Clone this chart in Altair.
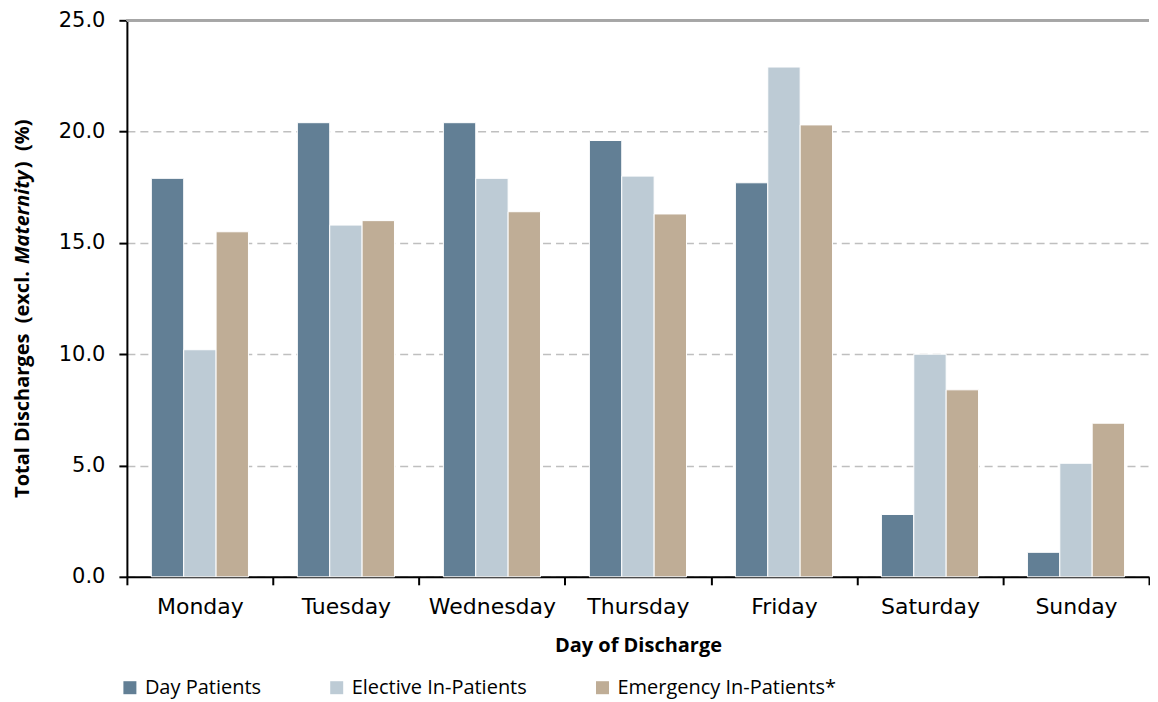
import altair as alt
import pandas as pd

days = ["Monday", "Tuesday", "Wednesday", "Thursday", "Friday", "Saturday", "Sunday"]
series = ["Day Patients", "Elective In-Patients", "Emergency In-Patients*"]
day_patients = [17.9, 20.4, 20.4, 19.6, 17.7, 2.8, 1.1]
elective = [10.2, 15.8, 17.9, 18.0, 22.9, 10.0, 5.1]
emergency = [15.5, 16.0, 16.4, 16.3, 20.3, 8.4, 6.9]
colors = ["#627F95", "#BDCBD5", "#BFAD96"]

NB = "\u00a0"
title_parts = [f"Total Discharges{NB}{NB}(excl.{NB}", "Maternity", f"){NB}{NB}(%)"]

rows = []
for s, vals in zip(series, [day_patients, elective, emergency]):
    for d, v in zip(days, vals):
        rows.append({"day": d, "series": s, "value": v})
df = pd.DataFrame(rows)

W, H = 1023, 557

bars = alt.Chart(df).mark_bar(stroke="white", strokeWidth=1).encode(
    x=alt.X("day:N", sort=days,
            scale=alt.Scale(paddingInner=0, paddingOuter=0),
            axis=alt.Axis(title="Day of Discharge", labelAngle=0, tickBand="extent",
                          labelFont="DejaVu Sans", labelFontSize=22, labelColor="#000000",
                          labelPadding=12, tickSize=8, tickColor="#000000", tickWidth=2,
                          domainColor="#000000", domainWidth=2,
                          titleFont="Open Sans", titleFontSize=20, titleFontWeight="bold",
                          titleColor="#000000", titlePadding=18, grid=False)),
    xOffset=alt.XOffset("series:N", sort=series,
                        scale=alt.Scale(paddingInner=0, paddingOuter=0.755)),
    y=alt.Y("value:Q", scale=alt.Scale(domain=[0, 25], nice=False),
            axis=alt.Axis(title=None,
                          values=[0, 5, 10, 15, 20, 25],
                          format=".1f", labelFont="DejaVu Sans", labelFontSize=21,
                          labelColor="#000000", labelPadding=14, tickSize=8,
                          tickColor="#000000", tickWidth=2, domainColor="#000000",
                          domainWidth=2, grid=True, gridColor="#BFBFBF", gridDash=[8, 5],
                          gridWidth=1.5)),
    color=alt.Color("series:N", sort=series,
                    scale=alt.Scale(domain=series, range=colors),
                    legend=alt.Legend(title=None, orient="none", direction="horizontal",
                                      legendX=-7, legendY=658, symbolType="square",
                                      symbolSize=169, symbolStrokeWidth=0,
                                      labelFont="Open Sans", labelFontSize=20,
                                      labelColor="#000000", columnPadding=65,
                                      labelOffset=5, labelLimit=500, padding=0)),
)

top_line = alt.Chart(df).mark_rule(color="#A6A6A6", strokeWidth=2).encode(
    x=alt.value(0), x2=alt.value(W), y=alt.value(0)
)

title_style = dict(angle=270, baseline="middle", font="Open Sans", fontSize=20,
                   fontWeight="bold", color="#000000")
t1 = alt.Chart(pd.DataFrame({"t": [title_parts[0]]})).mark_text(align="right", **title_style).encode(
    text="t:N", x=alt.value(-104), y=alt.value(251))
t2 = alt.Chart(pd.DataFrame({"t": [title_parts[1]]})).mark_text(align="center", fontStyle="italic", **title_style).encode(
    text="t:N", x=alt.value(-104), y=alt.value(197))
t3 = alt.Chart(pd.DataFrame({"t": [title_parts[2]]})).mark_text(align="left", **title_style).encode(
    text="t:N", x=alt.value(-104), y=alt.value(148))

chart = alt.layer(top_line, bars, t1, t2, t3).properties(
    width=W, height=H,
    padding={"left": 5, "top": 1, "right": 0, "bottom": 5},
).configure_view(stroke=None)

chart.save("out.html", embed_options={"renderer": "svg", "actions": False})
